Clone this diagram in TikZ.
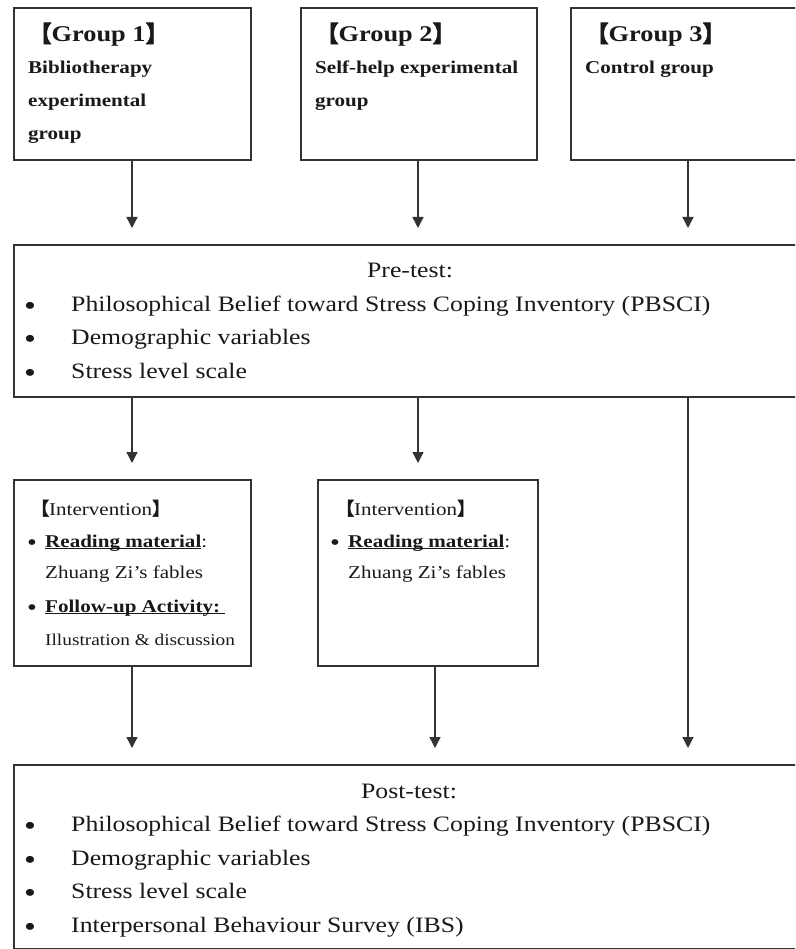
\documentclass[tikz,border=0pt]{standalone}
\usepackage{fontspec}
\setmainfont{Liberation Serif}[FakeStretch=1.17]
\newfontfamily\cjkfont{Noto Sans CJK SC}[FakeBold=2.5]
\usetikzlibrary{arrows.meta,calc}

% lenticular brackets taken from the CJK font
\newcommand\lbr{{\cjkfont 【}}
\newcommand\rbr{{\cjkfont 】}}
% bold text with a word-processor style underline close to the baseline
\newcommand\ulbold[1]{\setbox0\hbox{\bfseries #1}\rlap{\rule[-2.2pt]{\wd0}{1.3pt}}\box0}

\begin{document}
\begin{tikzpicture}[x=1pt,y=-1pt,
  box/.style={draw=black!80, line width=1.8pt, rectangle, inner sep=0pt, anchor=north west},
  arr/.style={draw=black!80, line width=1.4pt, -{Triangle[length=11pt,width=11pt]}, shorten >=16pt},
  txt/.style={anchor=base west, inner sep=0pt, text=black!90},
  hd/.style={txt, font=\fontsize{22.5}{27}\selectfont\bfseries},
  gb/.style={txt, font=\fontsize{18}{22}\selectfont\bfseries},
  big/.style={txt, font=\fontsize{22}{26}\selectfont},
  bigc/.style={big, anchor=base},
  mid/.style={txt, font=\fontsize{18}{22}\selectfont},
  small/.style={txt, font=\fontsize{16.5}{20}\selectfont},
  bulbig/.style={anchor=base, inner sep=0pt, text=black!90, font=\fontsize{29}{30}\selectfont, yshift=-4pt},
  bulmid/.style={anchor=base, inner sep=0pt, text=black!90, font=\fontsize{24}{26}\selectfont, yshift=-3pt}
]
\useasboundingbox (0,0) rectangle (795,949);
\fill[white] (0,0) rectangle (795,949);
\clip (0,0) rectangle (795,949);

% ---- boxes ----
\node[box, minimum width=237pt, minimum height=152pt] (g1) at (13,7) {};
\node[box, minimum width=236pt, minimum height=152pt] (g2) at (300,7) {};
\node[box, minimum width=230pt, minimum height=152pt] (g3) at (570,7) {};
\node[box, minimum width=787pt, minimum height=152pt] (pre) at (13,244) {};
\node[box, minimum width=237pt, minimum height=186pt] (i1) at (13,479) {};
\node[box, minimum width=220pt, minimum height=186pt] (i2) at (317,479) {};
\node[box, minimum width=787pt, minimum height=184pt] (post) at (13,764) {};

% ---- group texts ----
\node[hd] (g1h) at (29,42) {\lbr Group 1\rbr};
\node[gb] (g1a) at (28,74) {Bibliotherapy};
\node[gb] (g1b) at (28,107) {experimental};
\node[gb] (g1c) at (28,140) {group};

\node[hd] (g2h) at (316,42) {\lbr Group 2\rbr};
\node[gb] (g2a) at (315,74) {Self-help experimental};
\node[gb] (g2b) at (315,107) {group};

\node[hd] (g3h) at (586,42) {\lbr Group 3\rbr};
\node[gb] (g3a) at (585,74) {Control group};

% ---- pre-test ----
\node[bigc] (preh) at (410,277) {Pre-test:};
\node[bulbig] (prb1) at (30,311) {•};
\node[big] (pre1) at (71,311) {Philosophical Belief toward Stress Coping Inventory (PBSCI)};
\node[bulbig] (prb2) at (30,344) {•};
\node[big] (pre2) at (71,344) {Demographic variables};
\node[bulbig] (prb3) at (30,378) {•};
\node[big] (pre3) at (71,378) {Stress level scale};

% ---- interventions ----
\node[mid] (i1h) at (31,515) {\lbr Intervention\rbr};
\node[bulmid] (i1b1) at (32,547) {•};
\node[mid] (i1a) at (45,547) {\ulbold{Reading material}:};
\node[mid] (i1b) at (45,578) {Zhuang Zi’s fables};
\node[bulmid] (i1b2) at (32,612) {•};
\node[mid] (i1c) at (45,612) {\ulbold{Follow-up Activity:\hspace{5pt}}};
\node[small] (i1d) at (45,645) {Illustration \& discussion};

\node[mid] (i2h) at (336,515) {\lbr Intervention\rbr};
\node[bulmid] (i2b1) at (335,547) {•};
\node[mid] (i2a) at (348,547) {\ulbold{Reading material}:};
\node[mid] (i2b) at (348,578) {Zhuang Zi’s fables};

% ---- post-test ----
\node[bigc] (posth) at (409,798) {Post-test:};
\node[bulbig] (pob1) at (30,831) {•};
\node[big] (post1) at (71,831) {Philosophical Belief toward Stress Coping Inventory (PBSCI)};
\node[bulbig] (pob2) at (30,865) {•};
\node[big] (post2) at (71,865) {Demographic variables};
\node[bulbig] (pob3) at (30,898) {•};
\node[big] (post3) at (71,898) {Stress level scale};
\node[bulbig] (pob4) at (30,932) {•};
\node[big] (post4) at (71,932) {Interpersonal Behaviour Survey (IBS)};

% ---- connectors ----
\coordinate (xa) at (132,0);
\coordinate (xb) at (418,0);
\coordinate (xc) at (688,0);
\coordinate (xd) at (435,0);
\draw[arr] (g1.south -| xa) -- (pre.north -| xa);
\draw[arr] (g2.south -| xb) -- (pre.north -| xb);
\draw[arr] (g3.south -| xc) -- (pre.north -| xc);
\draw[arr] (pre.south -| xa) -- (i1.north -| xa);
\draw[arr] (pre.south -| xb) -- (i2.north -| xb);
\draw[arr] (i1.south -| xa) -- (post.north -| xa);
\draw[arr] (i2.south -| xd) -- (post.north -| xd);
\draw[arr] (pre.south -| xc) -- (post.north -| xc);
\end{tikzpicture}
\end{document}
